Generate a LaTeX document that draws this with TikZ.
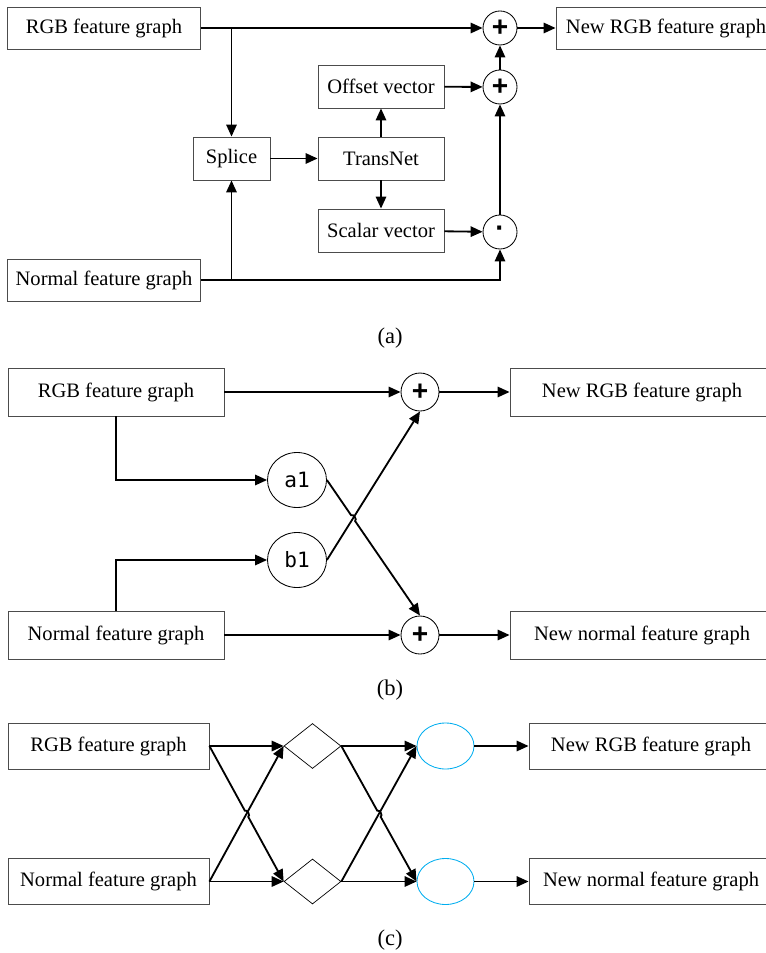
\documentclass[tikz,border=0pt]{standalone}
\usepackage{fontspec}
\setmainfont{Liberation Serif}
\newfontfamily\codefont{DejaVu Sans Mono}
\newfontfamily\signfont{Liberation Sans}
\usetikzlibrary{positioning,arrows.meta,shapes.geometric,calc}
\tikzset{
  figbox/.style={draw=black!70, line width=0.6pt, align=center, inner sep=0pt,
    font=\fontsize{14.6}{17}\selectfont, minimum height=10.5mm},
  figop/.style={circle, draw, line width=0.6pt, inner sep=0pt, minimum size=8.5mm,
    font=\signfont\bfseries\fontsize{20}{20}\selectfont},
  figcoef/.style={ellipse, draw, line width=0.6pt, inner sep=0pt,
    minimum width=14.75mm, minimum height=13.75mm, font=\codefont\fontsize{15}{15}\selectfont},
  figmix/.style={diamond, draw, line width=0.5pt, inner sep=0pt,
    minimum width=14.25mm, minimum height=11.25mm},
  figfuse/.style={ellipse, draw=cyan, line width=0.6pt, inner sep=0pt,
    minimum width=14.25mm, minimum height=11.5mm},
  figarrow/.style={-{Triangle[length=3mm, width=2.6mm]}, line width=1.3pt},
  fighop/.style={bend left=90},
  figlabel/.style={font=\fontsize{16}{18}\selectfont},
}

\begin{document}
\begin{tikzpicture}
  \useasboundingbox (0,0) rectangle (19.125,-23.825);
  % (a) TransNet
  \node[figbox, minimum width=48.25mm] (rgbA) at (2.6,-0.7) {RGB feature graph};
  \node[figbox, minimum width=55mm] (newA) at (16.65,-0.7) {New RGB feature graph};
  \node[figop] (plusA1) at (12.5,-0.7) {+};
  \node[figop] (plusA2) at (12.5,-2.175) {+};
  \node[figop] (dotA) at (12.5,-5.8) {·};
  \node[figbox, minimum width=31.5mm, minimum height=10.75mm] (offset) at (9.525,-2.1625) {Offset vector};
  \node[figbox, minimum width=31.5mm, minimum height=10.75mm] (transnet) at (9.525,-3.9625) {TransNet};
  \node[figbox, minimum width=31.5mm, minimum height=10.75mm] (scalar) at (9.525,-5.7625) {Scalar vector};
  \node[figbox, minimum width=19.25mm, minimum height=10.75mm] (splice) at (5.7875,-3.9625) {Splice};
  \node[figbox, minimum width=48.25mm] (normalA) at (2.6,-7.0) {Normal feature graph};
  \draw[figarrow] (rgbA) -- (plusA1);
  \draw[figarrow] (rgbA.east -| splice) -- (splice.north);
  \draw[figarrow] (normalA.east -| splice) -- (splice.south);
  \draw[figarrow] (normalA) -| (dotA);
  \draw[figarrow] (splice) -- (transnet);
  \draw[figarrow] (transnet) -- (offset);
  \draw[figarrow] (transnet) -- (scalar);
  \draw[figarrow] (offset) -- (plusA2);
  \draw[figarrow] (scalar) -- (dotA);
  \draw[figarrow] (dotA) -- (plusA2);
  \draw[figarrow] (plusA2) -- (plusA1);
  \draw[figarrow] (plusA1) -- (newA);
  \node[figlabel] (labA) at (9.75,-8.45) {(a)};
  % (b) a1 / b1 weighting
  \begin{scope}[every node/.append style={font=\fontsize{16}{18}\selectfont}]
  \node[figbox, minimum width=54mm, minimum height=12mm] (rgbB) at (2.9,-9.8) {RGB feature graph};
  \node[figbox, minimum width=66mm, minimum height=12mm] (newB1) at (16.05,-9.8) {New RGB feature graph};
  \node[figbox, minimum width=54mm, minimum height=12mm] (normalB) at (2.9,-15.875) {Normal feature graph};
  \node[figbox, minimum width=66mm, minimum height=12mm] (newB2) at (16.05,-15.875) {New normal feature graph};
  \end{scope}
  \node[figop, minimum size=9.5mm] (plusB1) at (10.5,-9.8) {+};
  \node[figop, minimum size=9.5mm] (plusB2) at (10.5,-15.875) {+};
  \node[figcoef] (coefA) at (7.425,-12.0) {a1};
  \node[figcoef] (coefB) at (7.425,-14.0) {b1};
  \draw[figarrow] (rgbB) -- (plusB1);
  \draw[figarrow] (normalB) -- (plusB2);
  \draw[figarrow] (rgbB.south) |- (coefA.west);
  \draw[figarrow] (normalB.north) |- (coefB.west);
  \coordinate (hopB) at (intersection of coefA.east--plusB2.north and coefB.east--plusB1.south);
  \draw[figarrow] (coefA.east) -- ($(hopB)!2.5pt!(coefA.east)$)
    to[fighop] ($(hopB)!2.5pt!(plusB2.north)$) -- (plusB2.north);
  \draw[figarrow] (coefB.east) -- (plusB1.south);
  \draw[figarrow] (plusB1) -- (newB1);
  \draw[figarrow] (plusB2) -- (newB2);
  \node[figlabel] (labB) at (9.75,-17.25) {(b)};
  % (c) cross fusion
  \node[figbox, minimum width=50.25mm, minimum height=11.5mm] (rgbC) at (2.7125,-18.65) {RGB feature graph};
  \node[figbox, minimum width=50.25mm, minimum height=11.5mm] (normalC) at (2.7125,-22.0375) {Normal feature graph};
  \node[figmix] (mixC1) at (7.8125,-18.65) {};
  \node[figmix] (mixC2) at (7.8125,-22.0375) {};
  \node[figfuse] (fuseC1) at (11.1375,-18.65) {};
  \node[figfuse] (fuseC2) at (11.1375,-22.0375) {};
  \node[figbox, minimum width=61mm, minimum height=11.5mm] (newC1) at (16.275,-18.65) {New RGB feature graph};
  \node[figbox, minimum width=61mm, minimum height=11.5mm] (newC2) at (16.275,-22.0375) {New normal feature graph};
  \coordinate (hopC1) at (intersection of rgbC.east--mixC2.west and normalC.east--mixC1.west);
  \coordinate (hopC2) at (intersection of mixC1.east--fuseC2.west and mixC2.east--fuseC1.west);
  \draw[figarrow] (rgbC.east) -- (mixC1.west);
  \draw[figarrow] (rgbC.east) -- ($(hopC1)!2.5pt!(rgbC.east)$)
    to[fighop] ($(hopC1)!2.5pt!(mixC2.west)$) -- (mixC2.west);
  \draw[figarrow] (normalC.east) -- (mixC1.west);
  \draw[figarrow] (normalC.east) -- (mixC2.west);
  \draw[figarrow] (mixC1.east) -- (fuseC1.west);
  \draw[figarrow] (mixC1.east) -- ($(hopC2)!2.5pt!(mixC1.east)$)
    to[fighop] ($(hopC2)!2.5pt!(fuseC2.west)$) -- (fuseC2.west);
  \draw[figarrow] (mixC2.east) -- (fuseC1.west);
  \draw[figarrow] (mixC2.east) -- (fuseC2.west);
  \draw[figarrow] (fuseC1) -- (newC1);
  \draw[figarrow] (fuseC2) -- (newC2);
  \node[figlabel] (labC) at (9.75,-23.5) {(c)};
\end{tikzpicture}
\end{document}
